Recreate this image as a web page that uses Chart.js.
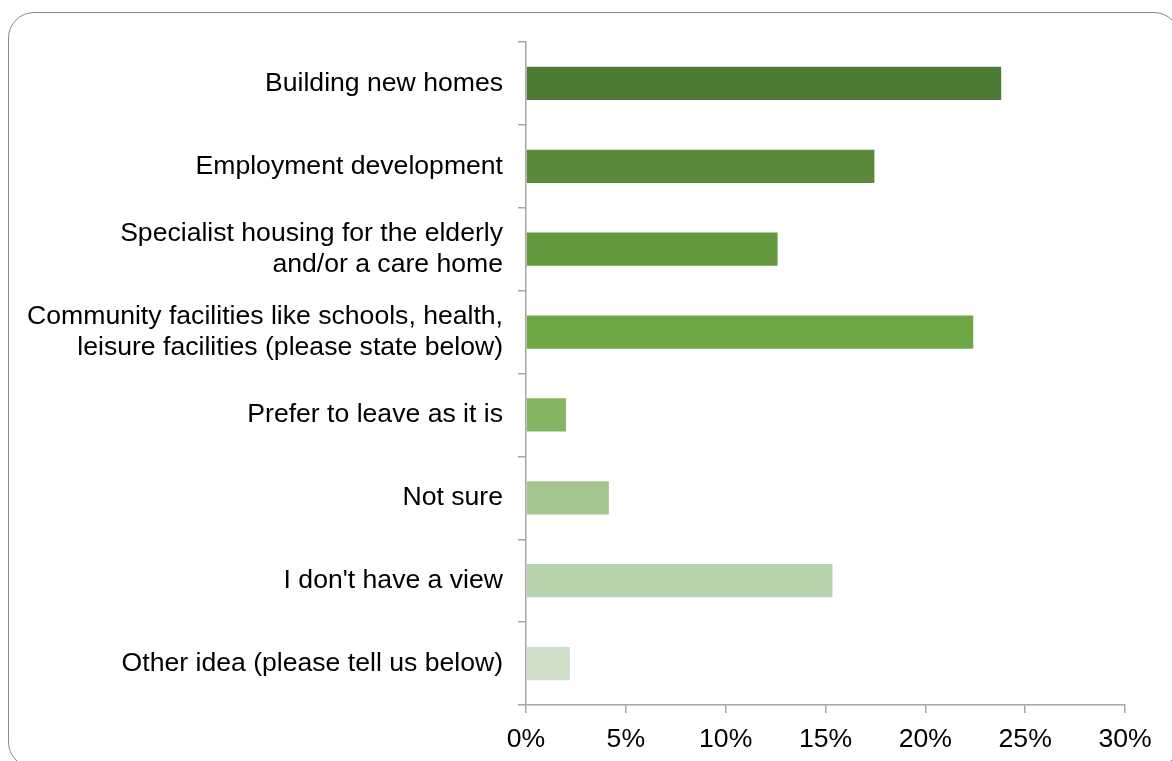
<!DOCTYPE html>
<html>
<head>
<meta charset="utf-8">
<script src="https://cdn.jsdelivr.net/npm/chart.js@4"></script>
<style>
  html, body { margin: 0; padding: 0; background: #fff; overflow: hidden; }
  #wrap { position: relative; width: 1172px; height: 761px; }
  #frame { position: absolute; left: 8px; top: 12px; width: 1172px; height: 756px; border: 1.5px solid #8a8a8a; border-radius: 26px; box-sizing: border-box; }
  canvas { position: absolute; left: 0; top: 0; }
</style>
</head>
<body>
<div id="wrap">
  <div id="frame"></div>
  <canvas id="c" width="1172" height="761"></canvas>
</div>
<script>
const categories = [
  "Building new homes",
  "Employment development",
  ["Specialist housing for the elderly", "and/or a care home"],
  ["Community facilities like schools, health,", "leisure facilities (please state below)"],
  "Prefer to leave as it is",
  "Not sure",
  "I don't have a view",
  "Other idea (please tell us below)"
];
const values = [23.8, 17.45, 12.6, 22.4, 2.0, 4.15, 15.35, 2.2];
const barColors = ["#4d7a32", "#5a8a39", "#639a3e", "#6ea845", "#83b563", "#a4c58f", "#b8d2ae", "#d0e0c8"];
const xTicks = [0, 5, 10, 15, 20, 25, 30];

const axisColor = "#a6a6a6";
const font = { family: "'Liberation Sans', Arial, sans-serif", size: 26.6, lineHeight: 1.16 };

new Chart(document.getElementById("c"), {
  type: "bar",
  data: {
    labels: categories,
    datasets: [{
      data: values,
      backgroundColor: barColors,
      borderWidth: 0,
      categoryPercentage: 1.0,
      barPercentage: 0.4
    }]
  },
  options: {
    indexAxis: "y",
    responsive: false,
    animation: false,
    devicePixelRatio: 1,
    layout: { padding: { top: 42, right: 47, bottom: 0, left: 0 } },
    plugins: { legend: { display: false }, tooltip: { enabled: false } },
    scales: {
      y: {
        grid: { drawOnChartArea: false, offset: true, tickLength: 8, color: axisColor, lineWidth: 1.5 },
        border: { color: axisColor, width: 1.5 },
        ticks: { color: "#000", font: font, padding: 15, autoSkip: false },
        afterFit: (s) => { s.width = 526; }
      },
      x: {
        min: 0, max: 30,
        afterBuildTicks: (s) => { s.ticks = xTicks.map(v => ({ value: v })); },
        grid: { drawOnChartArea: false, tickLength: 8, color: axisColor, lineWidth: 1.5 },
        border: { color: axisColor, width: 1.5 },
        ticks: { color: "#000", font: font, padding: 11, callback: (v) => v + "%" , maxRotation: 0},
        afterFit: (s) => { s.height = 56; }
      }
    }
  }
});
</script>
</body>
</html>
